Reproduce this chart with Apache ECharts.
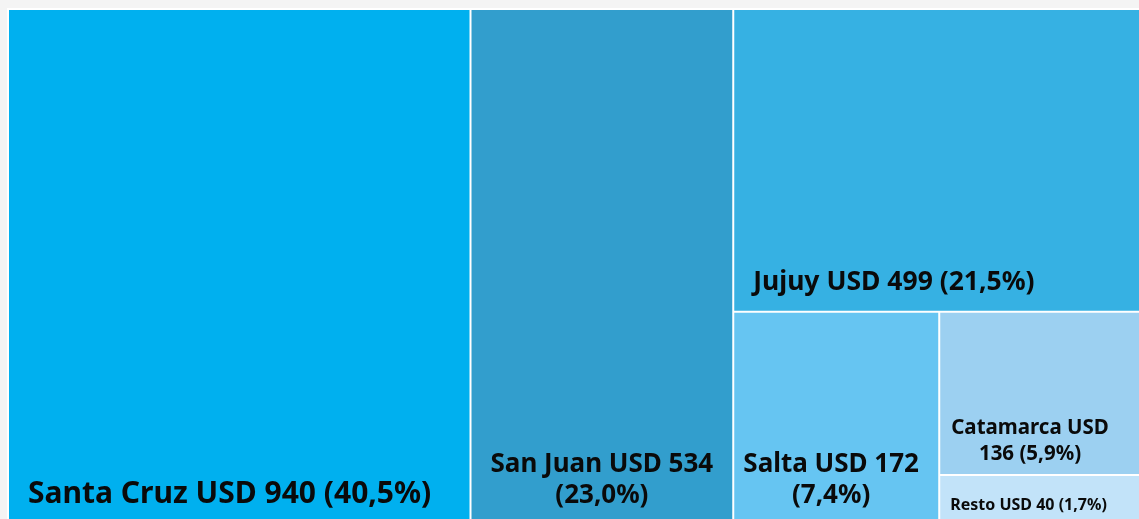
<!DOCTYPE html>
<html>
<head>
<meta charset="utf-8">
<script src="https://cdn.jsdelivr.net/npm/echarts@6/dist/echarts.min.js"></script>
<style>
  html, body { margin: 0; padding: 0; background: #f4f4f4; }
  #main { width: 1139px; height: 519px; }
</style>
</head>
<body>
<div id="main"></div>
<script>
// exportaciones mineras por provincia (millones de USD)
var provinces = ['Santa Cruz', 'San Juan', 'Jujuy', 'Salta', 'Catamarca', 'Resto'];
var valuesUsd = [940, 534, 499, 172, 136, 40];

var colors = ['#00b0ef', '#329ecd', '#36b1e3', '#66c5f2', '#9cd0f1', '#c2e3f9'];

// label look per box (breakAfter = words on the first line, 0 = one line)
var labelCfg = {
  'Santa Cruz': { fontSize: 30, lineHeight: 34, position: [14, '100%'], align: 'left', offset: [0, -6], breakAfter: 0 },
  'San Juan':   { fontSize: 26, lineHeight: 31, position: ['50%', '100%'], align: 'center', offset: [0, -6], breakAfter: 4 },
  'Jujuy':      { fontSize: 26.5, lineHeight: 30, position: [14, '100%'], align: 'left', offset: [0, -8], breakAfter: 0 },
  'Salta':      { fontSize: 26, lineHeight: 31, position: ['47.5%', '100%'], align: 'center', offset: [0, -6], breakAfter: 3 },
  'Catamarca':  { fontSize: 20.5, lineHeight: 26, position: ['43%', '100%'], align: 'center', offset: [0, -2], breakAfter: 2 },
  'Resto':      { fontSize: 16, lineHeight: 18, position: [5, '100%'], align: 'left', offset: [0, -3], breakAfter: 0 }
};

var total = valuesUsd.reduce(function (a, b) { return a + b; }, 0);

function pct(v) {
  return (v / total * 100).toFixed(1).replace('.', ',') + '%';
}

function labelText(name, v, breakAfter) {
  var words = (name + ' USD ' + v + ' (' + pct(v) + ')').split(' ');
  if (!breakAfter) return words.join(' ');
  return words.slice(0, breakAfter).join(' ') + '\n' + words.slice(breakAfter).join(' ');
}

var data = provinces.map(function (name, i) {
  var c = labelCfg[name];
  return {
    name: name,
    value: valuesUsd[i],
    itemStyle: { color: colors[i] },
    label: {
      show: true,
      formatter: labelText(name, valuesUsd[i], c.breakAfter),
      position: c.position,
      align: c.align,
      verticalAlign: 'bottom',
      offset: c.offset,
      overflow: 'none',
      fontSize: c.fontSize,
      lineHeight: c.lineHeight,
      fontWeight: 'bold',
      fontFamily: 'Noto Sans',
      color: '#0a0a0a'
    }
  };
});

var myChart = echarts.init(document.getElementById('main'));

var option = {
  backgroundColor: '#f4f4f4',
  series: [
    {
      type: 'treemap',
      left: 7,
      top: 8,
      right: -12,
      bottom: -5,
      roam: false,
      nodeClick: false,
      breadcrumb: { show: false },
      squareRatio: 1,
      sort: 'desc',
      animation: false,
      levels: [
        {
          itemStyle: { borderColor: '#ffffff', borderWidth: 2, gapWidth: 2 }
        },
        {
          itemStyle: { borderWidth: 0 }
        }
      ],
      data: data
    }
  ]
};

myChart.setOption(option);
</script>
</body>
</html>
